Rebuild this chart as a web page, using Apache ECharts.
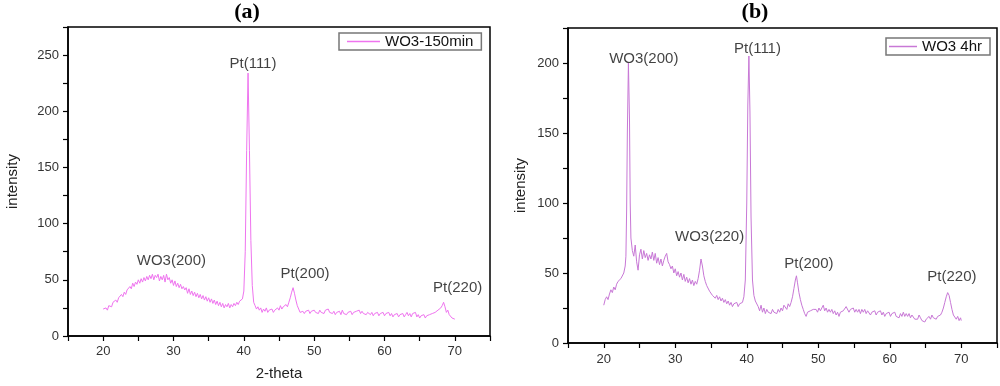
<!DOCTYPE html>
<html>
<head>
<meta charset="utf-8">
<script src="https://cdn.jsdelivr.net/npm/echarts@6/dist/echarts.min.js"></script>
<style>html,body{margin:0;padding:0;background:#fff}#c{width:1000px;height:386px}</style>
</head>
<body>
<div id="c"></div>
<script>
// ---------- DATA ----------
const nameA = 'WO3-150min';
const nameB = 'WO3 4hr';
const xTicks = [20, 30, 40, 50, 60, 70];

const xA = [20.0,20.2,20.4,20.6,20.8,21.0,21.2,21.4,21.6,21.8,22.0,22.2,22.4,22.6,22.8,23.0,23.2,23.4,23.6,23.8,24.0,24.2,24.4,24.6,24.8,25.0,25.2,25.4,25.6,25.8,26.0,26.2,26.4,26.6,26.8,27.0,27.2,27.4,27.6,27.8,28.0,28.2,28.4,28.6,28.8,29.0,29.2,29.4,29.6,29.8,30.0,30.2,30.4,30.6,30.8,31.0,31.2,31.4,31.6,31.8,32.0,32.2,32.4,32.6,32.8,33.0,33.2,33.4,33.6,33.8,34.0,34.2,34.4,34.6,34.8,35.0,35.2,35.4,35.6,35.8,36.0,36.2,36.4,36.6,36.8,37.0,37.2,37.4,37.6,37.8,38.0,38.2,38.4,38.6,38.8,39.0,39.2,39.4,39.6,39.8,40.0,40.2,40.4,40.6,40.8,41.0,41.2,41.4,41.6,41.8,42.0,42.2,42.4,42.6,42.8,43.0,43.2,43.4,43.6,43.8,44.0,44.2,44.4,44.6,44.8,45.0,45.2,45.4,45.6,45.8,46.0,46.2,46.4,46.6,46.8,47.0,47.2,47.4,47.6,47.8,48.0,48.2,48.4,48.6,48.8,49.0,49.2,49.4,49.6,49.8,50.0,50.2,50.4,50.6,50.8,51.0,51.2,51.4,51.6,51.8,52.0,52.2,52.4,52.6,52.8,53.0,53.2,53.4,53.6,53.8,54.0,54.2,54.4,54.6,54.8,55.0,55.2,55.4,55.6,55.8,56.0,56.2,56.4,56.6,56.8,57.0,57.2,57.4,57.6,57.8,58.0,58.2,58.4,58.6,58.8,59.0,59.2,59.4,59.6,59.8,60.0,60.2,60.4,60.6,60.8,61.0,61.2,61.4,61.6,61.8,62.0,62.2,62.4,62.6,62.8,63.0,63.2,63.4,63.6,63.8,64.0,64.2,64.4,64.6,64.8,65.0,65.2,65.4,65.6,65.8,66.0,66.2,66.4,66.6,66.8,67.0,67.2,67.4,67.6,67.8,68.0,68.2,68.4,68.6,68.8,69.0,69.2,69.4,69.6,69.8,70.0];
const yA = [24,23,25,23,27,28,26,30,29,32,30,34,33,37,35,39,37,41,40,44,42,47,44,48,46,50,47,51,48,52,49,53,50,54,51,55,50,54,52,55,49,53,50,54,48,55,50,52,47,50,45,49,44,47,43,46,42,44,41,43,38,42,37,40,36,39,35,38,34,37,33,36,32,35,31,34,30,33,29,32,28,31,27,30,26,29,25,28,26,29,25,28,26,29,27,30,28,31,30,33,40,75,165,234,165,85,45,30,27,24,26,23,25,21,24,22,25,21,23,22,24,21,23,22,25,23,27,24,26,25,28,26,30,34,39,43,38,32,27,24,21,21,22,20,22,21,23,20,22,21,23,21,22,20,23,21,22,20,23,22,24,21,22,20,22,19,21,20,22,19,23,20,21,19,21,20,22,19,21,20,22,21,23,20,22,20,21,19,21,20,19,21,18,20,19,21,18,20,19,21,18,20,19,21,18,20,17,19,18,20,17,19,18,20,17,19,21,18,20,17,20,19,21,17,19,16,18,17,19,16,18,17,19,18,20,19,21,20,23,22,25,27,30,26,21,23,19,18,16,17,15];

const xB = [20.0,20.2,20.4,20.6,20.8,21.0,21.2,21.4,21.6,21.8,22.0,22.2,22.4,22.6,22.8,23.0,23.1,23.2,23.3,23.45,23.6,23.7,23.8,24.0,24.2,24.4,24.6,24.8,25.0,25.2,25.4,25.6,25.8,26.0,26.2,26.4,26.6,26.8,27.0,27.2,27.4,27.6,27.8,28.0,28.2,28.4,28.6,28.8,29.0,29.2,29.4,29.6,29.8,30.0,30.2,30.4,30.6,30.8,31.0,31.2,31.4,31.6,31.8,32.0,32.2,32.4,32.6,32.8,33.0,33.2,33.4,33.6,33.8,34.0,34.2,34.4,34.6,34.8,35.0,35.2,35.4,35.6,35.8,36.0,36.2,36.4,36.6,36.8,37.0,37.2,37.4,37.6,37.8,38.0,38.2,38.4,38.6,38.8,39.0,39.2,39.4,39.6,39.8,40.0,40.15,40.3,40.45,40.6,40.8,41.0,41.2,41.4,41.6,41.8,42.0,42.2,42.4,42.6,42.8,43.0,43.2,43.4,43.6,43.8,44.0,44.2,44.4,44.6,44.8,45.0,45.2,45.4,45.6,45.8,46.0,46.2,46.4,46.6,46.8,46.95,47.1,47.3,47.5,47.7,47.9,48.1,48.3,48.5,48.7,48.9,49.1,49.3,49.5,49.7,49.9,50.1,50.3,50.5,50.7,50.9,51.1,51.3,51.5,51.7,51.9,52.1,52.3,52.5,52.7,52.9,53.1,53.3,53.5,53.7,53.9,54.1,54.3,54.5,54.7,54.9,55.1,55.3,55.5,55.7,55.9,56.1,56.3,56.5,56.7,56.9,57.1,57.3,57.5,57.7,57.9,58.1,58.3,58.5,58.7,58.9,59.1,59.3,59.5,59.7,59.9,60.1,60.3,60.5,60.7,60.9,61.1,61.3,61.5,61.7,61.9,62.1,62.3,62.5,62.7,62.9,63.1,63.3,63.5,63.7,63.9,64.1,64.3,64.5,64.7,64.9,65.1,65.3,65.5,65.7,65.9,66.1,66.3,66.5,66.7,66.9,67.1,67.3,67.5,67.7,67.9,68.1,68.3,68.5,68.7,68.9,69.1,69.3,69.5,69.7,69.9,70.0];
const yB = [27,31,33,31,35,38,36,40,38,42,44,43,46,45,50,55,62,95,150,200,160,100,75,66,62,70,58,52,63,67,60,66,61,64,59,63,60,65,59,64,57,61,56,60,55,59,62,64,58,56,53,55,50,53,48,51,47,50,45,49,44,47,43,46,42,45,41,44,42,46,52,60,55,48,44,41,42,37,38,34,35,32,34,31,33,30,32,29,31,28,30,27,29,26,28,27,29,26,28,27,29,33,45,100,170,205,165,90,45,34,30,31,26,23,27,22,25,21,24,22,23,21,24,22,23,21,24,22,25,23,27,26,24,28,26,29,33,39,45,48,43,36,31,27,24,21,19,22,21,23,22,24,23,24,22,25,23,25,27,23,25,22,24,22,24,21,23,20,22,19,22,21,23,24,26,25,22,24,23,25,22,24,22,24,21,24,22,24,21,23,22,20,22,21,23,20,22,21,23,20,22,19,21,20,22,19,21,20,22,19,20,18,21,19,22,19,21,19,21,18,20,19,17,18,17,20,18,16,17,15,17,16,19,17,20,18,19,17,19,18,20,22,25,29,33,36,34,29,24,20,19,17,19,16,18,16];

const peakNamesA = ['WO3(200)', 'Pt(111)', 'Pt(200)', 'Pt(220)'];
const peakXA = [29.7, 41.3, 48.7, 70.4];
const peakYA = [66.7, 242.6, 55, 43];
const peakNamesB = ['WO3(200)', 'Pt(111)', 'WO3(220)', 'Pt(200)', 'Pt(220)'];
const peakXB = [25.6, 41.5, 34.8, 48.7, 68.7];
const peakYB = [202.9, 210, 75.7, 56.4, 47.6];

// ---------- CHART ----------
const FONT = 'Liberation Sans, Arial, sans-serif';
const pairs = (xs, ys) => xs.map((x, i) => [x, ys[i]]);
const colA = '#ef74ef';
const colB = '#c878d6';

function xAxisCfg(gi, margin, name) {
  return {
    gridIndex: gi, type: 'value', min: 15, max: 75, interval: 5,
    name: name || '', nameLocation: 'middle', nameGap: 30,
    nameTextStyle: { fontFamily: FONT, fontSize: 15, color: '#222' },
    axisLine: { lineStyle: { color: '#000', width: 1.5 } },
    axisTick: { show: true, inside: false, length: 5, lineStyle: { color: '#000', width: 1.2 } },
    axisLabel: { margin: margin, fontFamily: FONT, fontSize: 13, color: '#333',
      formatter: v => (xTicks.indexOf(v) >= 0 ? String(v) : '') },
    splitLine: { show: false }
  };
}
function yAxisCfg(gi, max, gap) {
  return {
    gridIndex: gi, type: 'value', min: 0, max: max, interval: 25,
    name: 'intensity', nameLocation: 'middle', nameGap: gap,
    nameTextStyle: { fontFamily: FONT, fontSize: 15, color: '#222' },
    axisLine: { lineStyle: { color: '#000', width: 1.5 } },
    axisTick: { show: true, inside: false, length: 5, lineStyle: { color: '#000', width: 1.2 } },
    axisLabel: { margin: 9, fontFamily: FONT, fontSize: 13, color: '#333',
      formatter: v => (v % 50 === 0 ? String(v) : '') },
    splitLine: { show: false }
  };
}
function labelSeries(gi, names, xs, ys) {
  return {
    type: 'scatter', xAxisIndex: gi, yAxisIndex: gi, symbolSize: 0, silent: true,
    data: names.map((n, i) => ({ name: n, value: [xs[i], ys[i]] })),
    label: { show: true, position: 'inside', formatter: p => p.name,
      fontFamily: FONT, fontSize: 15, color: '#111' },
    z: 5
  };
}

const chart = echarts.init(document.getElementById('c'), null, { renderer: 'canvas' });
chart.setOption({
  animation: false,
  backgroundColor: '#fff',
  title: [
    { text: '(a)', left: 242, top: -4, textAlign: 'center',
      textStyle: { fontFamily: 'Liberation Serif, Times New Roman, serif', fontWeight: 'bold', fontSize: 22, color: '#000' } },
    { text: '(b)', left: 750, top: -4, textAlign: 'center',
      textStyle: { fontFamily: 'Liberation Serif, Times New Roman, serif', fontWeight: 'bold', fontSize: 22, color: '#000' } }
  ],
  legend: [
    { data: [{ name: nameA, icon: 'rect' }], left: 339, top: 33, orient: 'horizontal', itemWidth: 33, itemHeight: 1.5,
      padding: [1, 8, 1, 8], borderColor: '#777', borderWidth: 1.5, borderRadius: 0,
      textStyle: { fontFamily: FONT, fontSize: 15, color: '#111' } },
    { data: [{ name: nameB, icon: 'rect' }], left: 886, top: 38, orient: 'horizontal', itemWidth: 28, itemHeight: 1.5,
      padding: [1, 8, 1, 3], borderColor: '#777', borderWidth: 1.5, borderRadius: 0,
      textStyle: { fontFamily: FONT, fontSize: 15, color: '#111' } }
  ],
  grid: [
    { left: 68, top: 27, width: 422, height: 309, show: true, borderColor: '#000', borderWidth: 1.5, backgroundColor: 'transparent' },
    { left: 568, top: 28, width: 429, height: 315, show: true, borderColor: '#000', borderWidth: 1.5, backgroundColor: 'transparent' }
  ],
  xAxis: [xAxisCfg(0, 9, '2-theta'), xAxisCfg(1, 10, '')],
  yAxis: [yAxisCfg(0, 275, 48), yAxisCfg(1, 225, 40)],
  series: [
    { name: nameA, type: 'line', xAxisIndex: 0, yAxisIndex: 0, data: pairs(xA, yA),
      symbol: 'none', lineStyle: { color: colA, width: 1 }, itemStyle: { color: colA } },
    { name: nameB, type: 'line', xAxisIndex: 1, yAxisIndex: 1, data: pairs(xB, yB),
      symbol: 'none', lineStyle: { color: colB, width: 1 }, itemStyle: { color: colB } },
    labelSeries(0, peakNamesA, peakXA, peakYA),
    labelSeries(1, peakNamesB, peakXB, peakYB)
  ]
});
</script>
</body>
</html>
